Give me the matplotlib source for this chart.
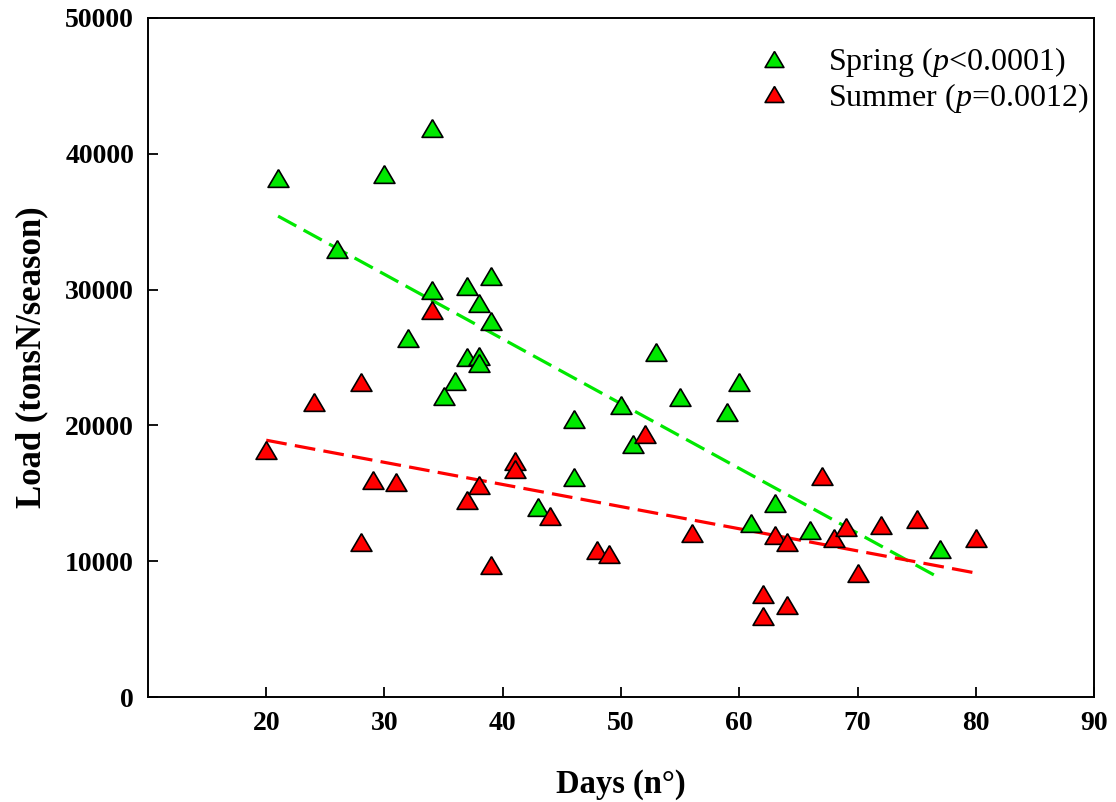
import numpy as np
import matplotlib
matplotlib.use("Agg")
import matplotlib.pyplot as plt

# Carga de N por estacion vs. duracion (dias)
dias_primavera = [21, 26, 30, 34, 34, 32, 37, 39, 38, 39, 37, 38, 38, 36, 35,
                  46, 46, 43, 50, 51, 53, 55, 59, 60, 61, 63, 66, 77]
carga_primavera = [38200, 33000, 38500, 41900, 30000, 26400, 30300, 31000, 29000,
                   27700, 25000, 25100, 24600, 23300, 22200, 20500, 16200, 14000,
                   21500, 18600, 25400, 22100, 21000, 23200, 12800, 14300, 12300,
                   10900]

dias_verano = [20, 24, 28, 28, 29, 31, 34, 37, 38, 39, 41, 41, 44, 48, 49, 52,
               56, 62, 62, 63, 64, 64, 67, 68, 69, 70, 72, 75, 80]
carga_verano = [18200, 21700, 23200, 11400, 16000, 15800, 28500, 14500, 15600,
                9700, 17400, 16800, 13350, 10800, 10500, 19400, 12100, 7600, 6000,
                11900, 11400, 6800, 16300, 11700, 12500, 9100, 12700, 13100, 11700]

etiquetas = ["Spring ($\\it{p}$<0.0001)", "Summer ($\\it{p}$=0.0012)"]

VERDE = "#00e800"
ROJO = "#ff0000"

plt.rcParams["font.family"] = ["Liberation Serif", "DejaVu Serif"]
plt.rcParams["mathtext.fontset"] = "custom"
plt.rcParams["mathtext.it"] = "Liberation Serif:italic"
plt.rcParams["mathtext.rm"] = "Liberation Serif"

# triangulo algo achatado
triangulo = [(0, 0.85), (-1, -0.85), (1, -0.85), (0, 0.85)]

fig = plt.figure(figsize=(11.16, 8.02), dpi=100)
ax = fig.add_axes([0.1326, 0.1309, 0.8477, 0.8467])

# rectas de regresion lineal de cada estacion
for x, y, c in [(dias_primavera, carga_primavera, VERDE), (dias_verano, carga_verano, ROJO)]:
    x = np.array(x, dtype=float)
    y = np.array(y, dtype=float)
    m, b = np.polyfit(x, y, 1)
    xx = np.array([x.min(), x.max()])
    ax.plot(xx, m * xx + b, color=c, lw=2.3, dashes=(6.5, 2.6), zorder=2)

ax.plot(dias_primavera, carga_primavera, ls="none", marker=triangulo, ms=15,
        mfc=VERDE, mec="black", mew=1.2, label=etiquetas[0], zorder=3)
ax.plot(dias_verano, carga_verano, ls="none", marker=triangulo, ms=15,
        mfc=ROJO, mec="black", mew=1.2, label=etiquetas[1], zorder=3)

ax.set_xlim(10, 90)
ax.set_ylim(0, 50000)
ax.set_xticks(range(20, 91, 10))
ax.set_yticks(range(0, 50001, 10000))
ax.tick_params(direction="in", length=7, width=1.3, labelsize=20, pad=10)
for lab in ax.get_xticklabels() + ax.get_yticklabels():
    lab.set_fontweight("bold")
for s in ax.spines.values():
    s.set_linewidth(1.4)

ax.set_xlabel("Days (n°)", fontsize=23.5, fontweight="bold", labelpad=24)
ax.set_ylabel("Load (tonsN/season)", fontsize=25, fontweight="bold", labelpad=12)

leg = ax.legend(loc="upper right", frameon=False, fontsize=23, handletextpad=0.7,
                borderaxespad=0.3, labelspacing=0.05, markerscale=0.9,
                bbox_to_anchor=(1.018, 0.993))

fig.savefig("out.png", dpi=100)
